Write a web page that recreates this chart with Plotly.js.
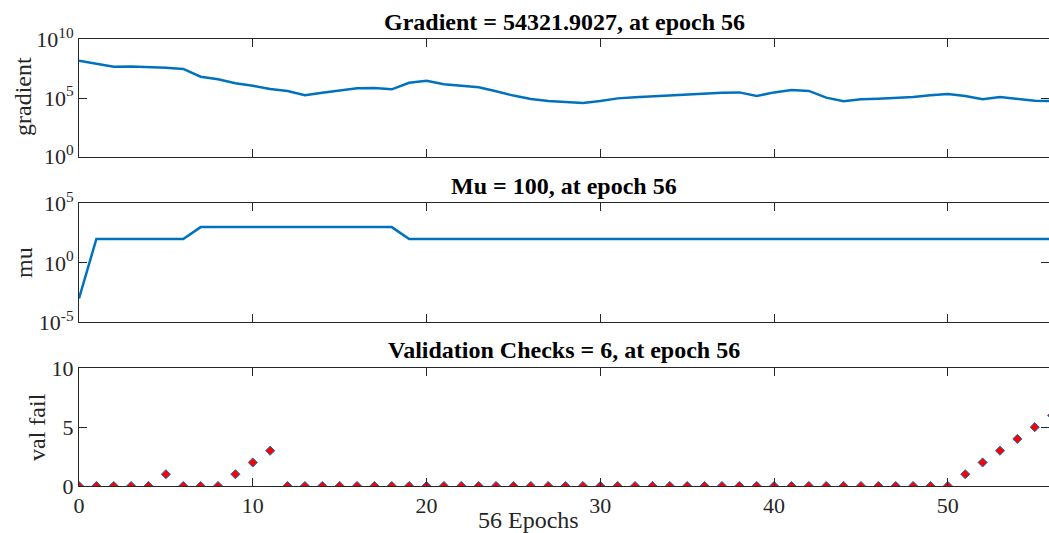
<!DOCTYPE html>
<html>
<head>
<meta charset="utf-8">
<script src="https://cdn.plot.ly/plotly-3.0.1.min.js"></script>
<style>html,body{margin:0;padding:0;background:#fff;}#chart{width:1049px;height:533px;}</style>
</head>
<body>
<div id="chart"></div>
<script>
// ---- data ----
const epochs = [0,1,2,3,4,5,6,7,8,9,10,11,12,13,14,15,16,17,18,19,20,21,22,23,24,25,26,27,28,29,30,31,32,33,34,35,36,37,38,39,40,41,42,43,44,45,46,47,48,49,50,51,52,53,54,55,56];
const gradient = [1.5e8,8.5e7,4.7e7,4.8e7,4.6e7,3.8e7,3.0e7,6.5e6,3.9e6,1.8e6,1.1e6,5.9e5,4.0e5,1.7e5,2.8e5,4.6e5,6.8e5,7.1e5,5.5e5,2.0e6,3.0e6,1.5e6,1.1e6,8.1e5,3.7e5,1.6e5,8.3e4,5.5e4,4.6e4,3.7e4,5.5e4,9.3e4,1.15e5,1.4e5,1.7e5,2.0e5,2.3e5,2.8e5,3.0e5,1.5e5,3.0e5,4.8e5,4.0e5,1.07e5,5.2e4,7.8e4,8.7e4,1.0e5,1.2e5,1.7e5,2.2e5,1.5e5,7.8e4,1.2e5,8.7e4,5.9e4,54321.9027];
const mu = [0.001,100,100,100,100,100,100,1000,1000,1000,1000,1000,1000,1000,1000,1000,1000,1000,1000,100,100,100,100,100,100,100,100,100,100,100,100,100,100,100,100,100,100,100,100,100,100,100,100,100,100,100,100,100,100,100,100,100,100,100,100,100,100];
const valFail = [0,0,0,0,0,1,0,0,0,1,2,3,0,0,0,0,0,0,0,0,0,0,0,0,0,0,0,0,0,0,0,0,0,0,0,0,0,0,0,0,0,0,0,0,0,0,0,0,0,0,0,1,2,3,4,5,6];
const xTicks = [0,10,20,30,40,50];
const gradTicks = [1,1e5,1e10];
const gradTickText = ['10<sup>0</sup>','10<sup>5</sup>','10<sup>10</sup>'];
const muTicks = [1e-5,1,1e5];
const muTickText = ['10<sup>-5</sup>','10<sup>0</sup>','10<sup>5</sup>'];
const valTicks = [0,5,10];
const titles = ['Gradient = 54321.9027, at epoch 56','Mu = 100, at epoch 56','Validation Checks = 6, at epoch 56'];
const yLabels = ['gradient','mu','val fail'];
const xLabel = '56 Epochs';

// ---- layout helpers ----
const H = 533, W = 1049, L = 79;
const py = p => 1 - p / H;           // pixel y -> paper y
const px = p => (p - L) / (W - L);   // pixel x -> paper x
const ink = '#262626';
const fam = '"Liberation Serif", "Times New Roman", serif';
const blue = '#0072BD';

const xCommon = {
  range: [0, 55.82], tickvals: xTicks, ticks: 'inside', ticklen: 8, tickwidth: 1,
  tickcolor: ink, showline: true, linecolor: ink, linewidth: 1, mirror: 'ticks',
  showgrid: false, zeroline: false, tickfont: {family: fam, size: 22, color: ink}
};
const yCommon = {
  ticks: 'inside', ticklen: 8, tickwidth: 1, tickcolor: ink, showline: true,
  linecolor: ink, linewidth: 1, mirror: 'ticks', showgrid: false, zeroline: false,
  tickfont: {family: fam, size: 22, color: ink}
};

const traces = [
  {x: epochs, y: gradient, xaxis: 'x', yaxis: 'y', mode: 'lines', line: {color: blue, width: 2.5}},
  {x: epochs, y: mu, xaxis: 'x2', yaxis: 'y2', mode: 'lines', line: {color: blue, width: 2.5}},
  {x: epochs, y: valFail, xaxis: 'x3', yaxis: 'y3', mode: 'markers',
   marker: {symbol: 'diamond', size: 7, color: '#FF0000', line: {color: blue, width: 1}}}
];

const layout = {
  width: W, height: H, showlegend: false,
  margin: {l: L, r: 0, t: 0, b: 0},
  paper_bgcolor: '#fff', plot_bgcolor: '#fff',
  font: {family: fam, color: ink},
  xaxis: Object.assign({}, xCommon, {domain: [0, 1], anchor: 'y', showticklabels: false}),
  xaxis2: Object.assign({}, xCommon, {domain: [0, 1], anchor: 'y2', showticklabels: false}),
  xaxis3: Object.assign({}, xCommon, {domain: [0, 1], anchor: 'y3', showticklabels: true}),
  yaxis: Object.assign({}, yCommon, {domain: [py(156.7), py(39.3)], type: 'log', range: [0, 10],
    tickvals: gradTicks, ticktext: gradTickText}),
  yaxis2: Object.assign({}, yCommon, {domain: [py(322.3), py(203.3)], type: 'log', range: [-5, 5],
    tickvals: muTicks, ticktext: muTickText}),
  yaxis3: Object.assign({}, yCommon, {domain: [py(486), py(368.3)], range: [0, 10],
    tickvals: valTicks}),
  annotations: [
    {text: '<b>' + titles[0] + '</b>', x: 0.5, y: py(22), xref: 'paper', yref: 'paper', showarrow: false, xanchor: 'center', yanchor: 'middle', font: {family: fam, size: 24, color: '#000'}},
    {text: '<b>' + titles[1] + '</b>', x: 0.5, y: py(186), xref: 'paper', yref: 'paper', showarrow: false, xanchor: 'center', yanchor: 'middle', font: {family: fam, size: 24, color: '#000'}},
    {text: '<b>' + titles[2] + '</b>', x: 0.5, y: py(350), xref: 'paper', yref: 'paper', showarrow: false, xanchor: 'center', yanchor: 'middle', font: {family: fam, size: 24, color: '#000'}},
    {text: yLabels[0], x: px(23), y: py(97), xref: 'paper', yref: 'paper', showarrow: false, textangle: -90, xanchor: 'center', yanchor: 'middle', font: {family: fam, size: 24, color: ink}},
    {text: yLabels[1], x: px(24), y: py(263), xref: 'paper', yref: 'paper', showarrow: false, textangle: -90, xanchor: 'center', yanchor: 'middle', font: {family: fam, size: 24, color: ink}},
    {text: yLabels[2], x: px(37), y: py(427), xref: 'paper', yref: 'paper', showarrow: false, textangle: -90, xanchor: 'center', yanchor: 'middle', font: {family: fam, size: 24, color: ink}},
    {text: xLabel, x: px(528), y: py(520), xref: 'paper', yref: 'paper', showarrow: false, xanchor: 'center', yanchor: 'middle', font: {family: fam, size: 24, color: ink}}
  ]
};

Plotly.newPlot('chart', traces, layout, {displayModeBar: false, staticPlot: true});
</script>
</body>
</html>
